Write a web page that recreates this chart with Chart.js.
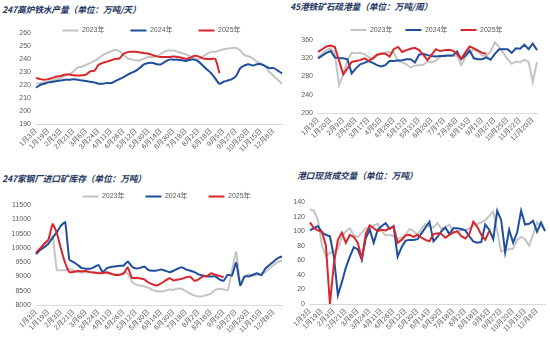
<!DOCTYPE html>
<html>
<head>
<meta charset="utf-8">
<script src="https://cdn.jsdelivr.net/npm/chart.js@4.4.1/dist/chart.umd.min.js"></script>
<style>
  body { margin: 0; width: 550px; height: 346px; background: #fff; position: relative; overflow: hidden; }
  canvas { position: absolute; }
  .title { position: absolute; font-family: "Noto Sans CJK SC", sans-serif; font-size: 8.8px; font-weight: bold; font-style: italic; color: #1f3864; white-space: nowrap; line-height: 12px; letter-spacing: -0.2px; }
</style>
</head>
<body>
<div class="title" style="left:2px;top:4px">247高炉铁水产量（单位：万吨/天）</div>
<div class="title" style="left:290px;top:1px">45港铁矿石疏港量（单位：万吨/周）</div>
<div class="title" style="left:2px;top:173px">247家钢厂进口矿库存（单位：万吨）</div>
<div class="title" style="left:297px;top:170px">港口现货成交量（单位：万吨）</div>

<canvas id="c1" width="285" height="173" style="left:0;top:0"></canvas>
<canvas id="c2" width="265" height="173" style="left:285px;top:0"></canvas>
<canvas id="c3" width="285" height="173" style="left:0;top:173px"></canvas>
<canvas id="c4" width="265" height="173" style="left:285px;top:173px"></canvas>

<script>
// tick labels (every third point carries a date)
const ticksHot = ['1月3日','1月19日','2月3日','2月21日','3月6日','3月24日','4月11日','4月26日','5月12日','5月30日','6月14日','6月30日','7月18日','8月2日','8月18日','9月5日','9月27日','10月20日','11月15日','12月8日'];
const ticksPort = ['1月3日','1月20日','2月9日','2月28日','3月17日','4月5日','4月25日','5月12日','5月31日','6月20日','7月7日','7月26日','8月15日','9月1日','9月27日','10月25日','11月22日','12月20日'];
const ticksStock = ['1月3日','1月19日','2月3日','2月21日','3月6日','3月24日','4月11日','4月26日','5月12日','5月30日','6月14日','6月30日','7月18日','8月2日','8月18日','9月5日','9月27日','10月20日','11月15日','12月8日'];
const ticksDeal = ['1月3日','1月19日','2月3日','2月21日','3月8日','3月24日','4月11日','4月26日','5月12日','5月30日','6月14日','6月30日','7月18日','8月2日','8月18日','9月5日','9月27日','10月20日','11月15日','12月8日'];

const seriesNames = ['2023年', '2024年', '2025年'];

// 247 hot metal output
const hot2023 = [221,221.5,222,222.5,223.5,224.5,225.5,227,228.5,230.5, 233.5,234,235.5,237,238.5,240.5,243,244.5,246,247, 246,243,240.5,239.5,239,239,240.5,241.5,241.5,242, 244,246,246.5,246.5,245.5,244.5,243.5,242,240.5,240, 242,244,245.5,245.5,246.5,247.5,248,248.5,248.5,246.5, 243,242,240.5,238,236.5,234,230,227,224,221];
const hot2024 = [218,220,221,222,222.5,223,223.5,224,224,224.5, 224,223.5,223,222.5,222,221,221,221.5,221.5,223, 224.5,226,228,229.5,231,233.5,236,237,237,236, 236,238,239.5,239.5,239.5,239,238.5,239.5,239.5,238, 235,232,229,225,221,222.5,223.5,224.5,227,233, 235,236,235,236,236,234.5,233,233,231,229];
const hot2025 = [225.5,224.5,224,224.5,225.5,226.5,227,228,228,227.5, 227.3,227.5,228,230.5,231,235.5,237,238,239,240, 240.5,244,245.3,245.5,245.5,245,244.5,244,243,242, 241.5,241.5,241.5,242,241.5,241,240,241,242.5,242, 240.5,240,240,240,229];

// 45 ports ore departures
const port2023 = [323,330,338,342,330,262,285,316,332,331, 332,329,323,318,326,331,333,334,332,315, 311,307,300,304,305,306,314,311,315,323, 327,325,325,326,306,322,332,340,334,326, 325,335,355,345,332,318,308,313,311,317, 312,268,312];
const port2024 = [320,326,332,336,322,320,320,318,287,298, 307,310,314,310,305,302,305,314,314,315, 316,318,318,311,328,330,327,325,324,325, 325,326,326,335,318,326,337,320,318,318, 322,317,330,340,340,340,332,342,341,350, 340,352,338];
const port2025 = [334,340,346,348,345,315,285,298,312,314, 316,320,315,320,328,330,330,324,340,345, 334,338,341,343,338,328,316,328,340,336, 338,339,337,330,319,333,346,342,337,332,330];

// 247 mills imported ore stock
const stock2023 = [9800,9950,10100,10250,10400,9220,9220,9220,9260,9200, 9150,9130,9150,9150,9150,9140,9120,9110,9100,9080, 9060,9150,9100,8830,8710,8680,8650,8600,8520,8480, 8470,8500,8540,8530,8580,8560,8480,8400,8330,8300, 8310,8350,8400,8530,8560,8550,8520,9200,9850,8700, 8950,9080,9030,9050,9100,9150,9290,9400,9500,9560];
const stock2024 = [9780,9930,10020,10150,10350,10550,10780,10900,9580,9500, 9400,9290,9270,9270,9330,9400,9150,9290,9330,9350, 9370,9380,9520,9350,9280,9300,9350,9220,9200,9210, 9240,9200,9150,9200,9270,9320,9240,9200,9150,9070, 9030,9000,9000,9000,8900,8850,9060,9030,9480,8690, 9000,9000,9050,9110,9040,9270,9400,9520,9640,9700];
const stock2025 = [9830,9980,10150,10300,10830,10520,9960,9470,9150,9160, 9190,9180,9190,9150,9130,9110,9120,9150,9090,9050, 9060,9100,9320,8950,8950,8930,8900,8780,8720,8680, 8760,8850,8940,8860,8890,8920,8970,8990,8850,8900, 9000,9010,9110,9060,9020,8970];

// port spot deals
const deal2023 = [130,128,115,80,66,70,72,76,92,100, 104,94,92,98,104,103,108,110,100,94, 95,93,89,91,95,103,100,95,103,110, 106,105,111,103,106,109,99,98,102,101, 104,108,110,112,115,121,127,100,72,74, 75,76,88,92,89,80,95,112,107,102];
const deal2024 = [101,104,107,98,95,93,65,12,30,50, 65,78,75,61,90,102,84,102,107,111, 103,107,65,78,87,88,88,89,97,105, 113,86,92,100,105,96,104,104,103,101, 93,86,84,85,109,102,89,128,115,71, 102,84,98,128,109,110,114,99,112,100];
const deal2025 = [112,104,101,99,80,0,55,88,98,84, 95,92,84,62,96,108,104,100,102,101, 104,106,84,88,94,95,92,95,91,88, 86,96,97,96,91,95,98,100,93,90, 96,113,106,95,88,100];

const colors = ['#c4c4c4', '#1f4e9c', '#d9262c'];
const axisFont = { family: '"Liberation Sans", "Noto Sans CJK SC", sans-serif', size: 7 };

// legend placement helper: fixed legend height and an offset of the drawn items
const legendTweak = {
  id: 'legendTweak',
  beforeInit(chart, args, opts) {
    const fit = chart.legend.fit;
    chart.legend.fit = function () {
      fit.call(this);
      this.height = chart.options.plugins.legendTweak.height;
    };
  },
  afterLayout(chart, args, opts) {
    const lg = chart.legend;
    lg.left += opts.dx; lg.right += opts.dx;
    lg.top += opts.dy; lg.bottom += opts.dy;
  }
};

function expandTicks(ticks, n) {
  return ticks.flatMap(t => [t, '', '']).slice(0, n);
}

function makeChart(id, s) {
  const n = s.data[0].length;
  new Chart(document.getElementById(id), {
    type: 'line',
    data: {
      labels: expandTicks(s.ticks, n),
      datasets: s.data.map((vals, k) => ({
        label: seriesNames[k],
        data: vals,
        borderColor: colors[k],
        backgroundColor: colors[k],
        borderWidth: 2,
        pointRadius: 0,
        pointStyle: 'line',
        tension: s.tension,
        order: 3 - k
      }))
    },
    options: {
      responsive: false,
      animation: false,
      devicePixelRatio: 1,
      layout: { padding: { left: 0, top: 0, right: s.padR, bottom: 0 } },
      plugins: {
        tooltip: { enabled: false },
        legend: {
          position: 'top',
          labels: {
            usePointStyle: true,
            pointStyle: 'line',
            pointStyleWidth: 16,
            padding: s.legend.pad,
            color: '#595959',
            font: axisFont,
            sort: (a, b) => a.datasetIndex - b.datasetIndex
          }
        },
        legendTweak: { height: s.legend.h, dx: s.legend.dx, dy: s.legend.dy }
      },
      scales: {
        x: {
          grid: { display: false, drawTicks: false },
          border: { display: true, color: '#d9d9d9', width: 1 },
          ticks: { autoSkip: false, maxRotation: 45, minRotation: 45, padding: 3, color: '#595959', font: axisFont },
          afterFit(scale) { scale.height = s.xH; scale.paddingLeft = 0; scale.paddingRight = 0; }
        },
        y: {
          min: s.yMin, max: s.yMax,
          grid: { display: false, drawTicks: false },
          border: { display: false },
          ticks: { stepSize: s.step, padding: 5, color: '#595959', font: axisFont, callback: v => String(v) },
          afterFit(scale) { scale.width = s.yW; }
        }
      }
    },
    plugins: [legendTweak]
  });
}

makeChart('c1', {
  ticks: ticksHot, data: [hot2023, hot2024, hot2025],
  yMin: 190, yMax: 260, step: 10, tension: 0.3,
  yW: 36, xH: 49, padR: 3,
  legend: { pad: 26, h: 33, dx: 10.5, dy: 1 }
});
makeChart('c2', {
  ticks: ticksPort, data: [port2023, port2024, port2025],
  yMin: 200, yMax: 380, step: 20, tension: 0,
  yW: 33, xH: 60, padR: 13,
  legend: { pad: 13, h: 31, dx: 15.5, dy: 13.5 }
});
makeChart('c3', {
  ticks: ticksStock, data: [stock2023, stock2024, stock2025],
  yMin: 8000, yMax: 11500, step: 500, tension: 0.15,
  yW: 36, xH: 41, padR: 3,
  legend: { pad: 21, h: 32, dx: 25.5, dy: -1 }
});
makeChart('c4', {
  ticks: ticksDeal, data: [deal2023, deal2024, deal2025],
  yMin: 0, yMax: 140, step: 20, tension: 0,
  yW: 25, xH: 42, padR: 5,
  legend: { pad: 31, h: 29, dx: 6.5, dy: -18.5 }
});
</script>
</body>
</html>
